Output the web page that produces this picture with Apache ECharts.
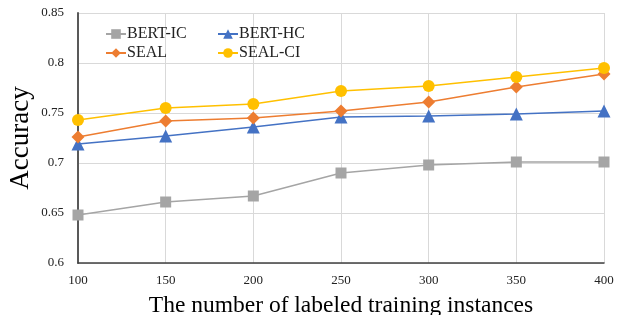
<!DOCTYPE html>
<html>
<head>
<meta charset="utf-8">
<script src="https://cdn.jsdelivr.net/npm/echarts@6/dist/echarts.min.js"></script>
<style>html,body{margin:0;padding:0;background:#fff}#chart{width:620px;height:315px}</style>
</head>
<body>
<div id="chart"></div>
<script>
var chart = echarts.init(document.getElementById('chart'));

var categories = ['100', '150', '200', '250', '300', '350', '400'];
var bertIC = [0.648, 0.661, 0.667, 0.690, 0.698, 0.701, 0.701];
var bertHC = [0.719, 0.727, 0.736, 0.746, 0.747, 0.749, 0.752];
var seal = [0.726, 0.742, 0.745, 0.752, 0.761, 0.776, 0.789];
var sealCI = [0.743, 0.755, 0.759, 0.772, 0.777, 0.786, 0.795];

var font = 'Liberation Serif';

function line(name, data, color, symbol, size) {
    return {
        name: name,
        type: 'line',
        data: data,
        symbol: symbol,
        symbolSize: size,
        lineStyle: { color: color, width: 1.5 },
        itemStyle: { color: color },
        emphasis: { disabled: true }
    };
}

var legendBase = {
    orient: 'vertical',
    top: 21,
    itemWidth: 20,
    itemHeight: 12,
    itemGap: 3,
    textStyle: { fontFamily: font, fontSize: 16, color: '#222', padding: [0, 0, 0, -4] }
};

var option = {
    backgroundColor: '#fff',
    animation: false,
    legend: [
        Object.assign({}, legendBase, { left: 100, data: ['BERT-IC', 'SEAL'] }),
        Object.assign({}, legendBase, { left: 212, data: ['BERT-HC', 'SEAL-CI'] })
    ],
    grid: { left: 78, right: 16, top: 13, bottom: 52, outerBoundsMode: 'none', containLabel: false },
    xAxis: {
        type: 'category',
        data: categories,
        boundaryGap: false,
        name: 'The number of labeled training instances',
        nameLocation: 'middle',
        nameGap: 31,
        nameMoveOverlap: false,
        nameTextStyle: { fontFamily: font, fontSize: 23.5, color: '#000' },
        axisLine: { lineStyle: { color: '#404040', width: 1.5 } },
        axisTick: { show: false },
        axisLabel: { fontFamily: font, fontSize: 13, color: '#222', margin: 11 },
        splitLine: { show: true, lineStyle: { color: '#d9d9d9' } }
    },
    yAxis: {
        type: 'value',
        min: 0.6,
        max: 0.85,
        interval: 0.05,
        name: 'Accuracy',
        nameLocation: 'middle',
        nameGap: 44,
        nameMoveOverlap: false,
        nameTextStyle: { fontFamily: font, fontSize: 27, color: '#000' },
        axisLine: { show: true, lineStyle: { color: '#595959', width: 2 } },
        axisTick: { show: false },
        axisLabel: {
            fontFamily: font, fontSize: 13, color: '#222', margin: 14,
            formatter: function (v) { return String(+v.toFixed(2)); }
        },
        splitLine: { show: true, lineStyle: { color: '#d9d9d9' } }
    },
    series: [
        line('BERT-IC', bertIC, '#a5a5a5', 'rect', 11),
        line('BERT-HC', bertHC, '#4472c4', 'triangle', 13),
        line('SEAL', seal, '#ed7d31', 'diamond', 13),
        line('SEAL-CI', sealCI, '#ffc000', 'circle', 12)
    ]
};

chart.setOption(option);
</script>
</body>
</html>
